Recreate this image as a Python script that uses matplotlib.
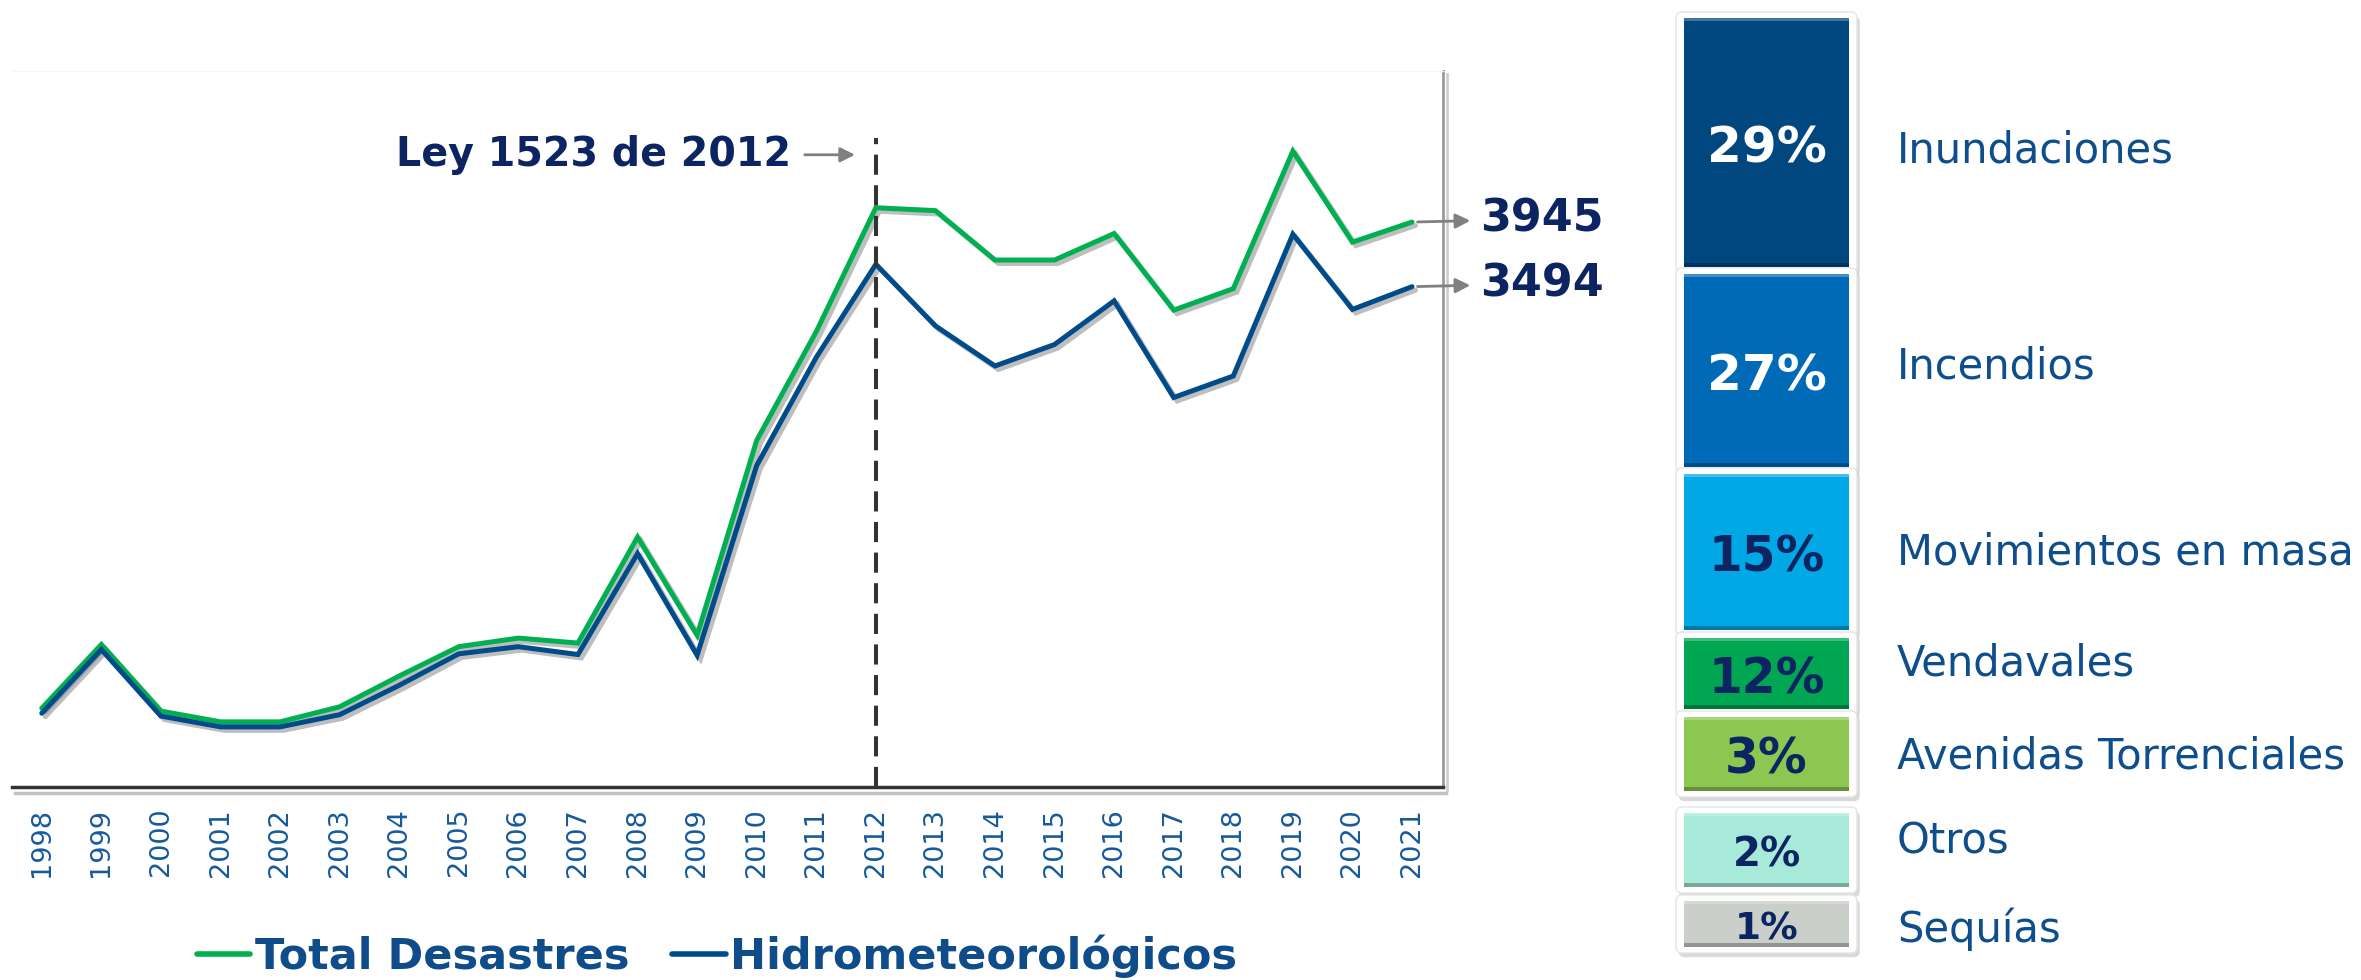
import matplotlib
matplotlib.use('Agg')
import matplotlib.pyplot as plt
import matplotlib.patheffects as pe
from matplotlib.patches import FancyBboxPatch
from matplotlib.lines import Line2D
import matplotlib.colors as mcolors

# ---------------- data ----------------
years = list(range(1998, 2022))
total_desastres = [550, 995, 530, 455, 455, 560, 775, 980, 1040, 1005, 1745, 1060,
                   2420, 3180, 4045, 4025, 3680, 3680, 3865, 3330, 3480, 4440, 3805, 3945]
hidrometeorologicos = [515, 960, 495, 420, 420, 505, 710, 930, 980, 925, 1630, 920,
                       2245, 3000, 3650, 3220, 2940, 3090, 3395, 2720, 2870, 3860, 3335, 3494]
series_labels = ['Total Desastres', 'Hidrometeorológicos']
law_year = 2012
law_label = 'Ley 1523 de 2012'

categories = ['Inundaciones', 'Incendios', 'Movimientos en masa', 'Vendavales',
              'Avenidas Torrenciales', 'Otros', 'Sequías']
percentages = [29, 27, 15, 12, 3, 2, 1]

# ---------------- style / layout ----------------
GREEN = '#00B050'
BLUE = '#004C8A'
NAVY = '#0C2461'
TICKC = '#165A9C'
LEGC = '#0F4C8A'
LABC = '#0F4E8C'

box_colors = ['#00467F', '#006AB7', '#00A8E6', '#00A651', '#8CC751', '#A8EAD9', '#CACFCA']
pct_text_colors = ['white', 'white', NAVY, NAVY, NAVY, NAVY, NAVY]
pct_sizes = [36, 36, 35, 35, 35, 29, 27]
box_top = [18, 274, 474, 638, 717, 813, 901]
box_height = [249, 193, 156, 71, 74, 74, 46]
label_cy = [147, 363, 549, 660, 753, 838, 927]
box_x0, box_w = 1684, 165
label_x = 1897

W, H = 2361, 980
fig = plt.figure(figsize=(W / 100, H / 100), dpi=100, facecolor='white')

# ---------------- line chart ----------------
ax = fig.add_axes([12 / W, 1 - 787 / H, 1431 / W, 716 / H])
ax.set_xlim(1997.5, 2021.52)
ax.set_ylim(0, 5000)

line_fx = [pe.SimpleLineShadow(offset=(2.5, -2.5), shadow_color='#6f6f6f', alpha=0.45),
           pe.Normal()]
ax.plot(years, total_desastres, color=GREEN, lw=3.6, solid_joinstyle='miter',
        solid_capstyle='round', path_effects=line_fx, zorder=3)
ax.plot(years, hidrometeorologicos, color=BLUE, lw=3.6, solid_joinstyle='miter',
        solid_capstyle='round', path_effects=line_fx, zorder=4)

ax.axvline(law_year, ymin=0, ymax=0.906, color='#333333', lw=2.9,
           ls=(0, (5, 2.6)), zorder=5)

ax.spines['left'].set_visible(False)
ax.spines['top'].set_color('#f6f6f6')
ax.spines['top'].set_linewidth(1)
ax.spines['right'].set_color('#9a9a9a')
ax.spines['right'].set_linewidth(2)
ax.spines['right'].set_path_effects([pe.SimpleLineShadow(offset=(3, -2), shadow_color='#888888', alpha=0.4), pe.Normal()])
ax.spines['bottom'].set_color('#333333')
ax.spines['bottom'].set_linewidth(2.5)
ax.spines['bottom'].set_path_effects([pe.SimpleLineShadow(offset=(2, -4), shadow_color='#777777', alpha=0.45), pe.Normal()])

ax.set_yticks([])
ax.set_xticks(years)
ax.set_xticklabels([str(y) for y in years], rotation=90, fontsize=19.5,
                   color=TICKC, family='DejaVu Sans')
ax.tick_params(axis='x', length=0, pad=15)

ax.annotate(law_label, xy=(law_year, 0.883), xycoords=('data', 'axes fraction'),
            xytext=(-85, 0), textcoords='offset pixels', ha='right', va='center',
            fontsize=28.5, fontweight='bold', color=NAVY, family='DejaVu Sans',
            arrowprops=dict(arrowstyle='-|>', color='#808080', lw=2,
                            shrinkA=8, shrinkB=15, mutation_scale=22))

for series in (total_desastres, hidrometeorologicos):
    ax.annotate(f'{series[-1]}', xy=(years[-1], series[-1]), xytext=(68, 3),
                textcoords='offset pixels', ha='left', va='center',
                fontsize=32, fontweight='bold', color=NAVY, family='DejaVu Sans',
                arrowprops=dict(arrowstyle='<|-', color='#808080', lw=2,
                                shrinkA=5, shrinkB=4, mutation_scale=22))

handles = [Line2D([0], [0], color=GREEN, lw=4, solid_capstyle='round'),
           Line2D([0], [0], color=BLUE, lw=4, solid_capstyle='round')]
leg = fig.legend(handles, series_labels, loc='center', bbox_to_anchor=(717 / W, 1 - 956 / H),
                 ncol=2, frameon=False, handlelength=1.25, handletextpad=0.1,
                 columnspacing=1.0, prop=dict(family='DejaVu Sans', weight='bold', size=31))
for t in leg.get_texts():
    t.set_color(LEGC)

# ---------------- right panel ----------------
pax = fig.add_axes([1650 / W, 0, 711 / W, 1])
pax.set_xlim(1650, 2361)
pax.set_ylim(980, 0)
pax.axis('off')

for top, h in zip(box_top, box_height):
    frame = FancyBboxPatch((box_x0 - 8, top - 6), box_w + 16, h + 12,
                           boxstyle='round,pad=0,rounding_size=6', fc='white',
                           ec='#e4e4e4', lw=1, zorder=1,
                           path_effects=[pe.withSimplePatchShadow(offset=(2, -3), shadow_rgbFace='black', alpha=0.15)])
    pax.add_patch(frame)

cx = box_x0 + box_w / 2
darker = [tuple(c * 0.72 for c in mcolors.to_rgb(col)) for col in box_colors]
lighter = [tuple(c + (1 - c) * 0.25 for c in mcolors.to_rgb(col)) for col in box_colors]
pax.bar([cx] * len(box_top), box_height, bottom=box_top, width=box_w,
        color=box_colors, zorder=2)
pax.bar([cx] * len(box_top), [4] * len(box_top),
        bottom=[t + h - 4 for t, h in zip(box_top, box_height)], width=box_w,
        color=darker, zorder=3)
pax.bar([cx] * len(box_top), [3] * len(box_top), bottom=box_top, width=box_w,
        color=lighter, zorder=3)

for top, h, p, tc, fs in zip(box_top, box_height, percentages, pct_text_colors, pct_sizes):
    cy = top + h / 2 + 2
    pax.text(cx, cy + 0.506 * fs, f'{p}%', ha='center', va='baseline', fontsize=fs,
             fontweight='bold', color=tc, family='DejaVu Sans', zorder=5)

for cat, cy in zip(categories, label_cy):
    pax.text(label_x, cy + 0.506 * 30, cat, ha='left', va='baseline', fontsize=30,
             color=LABC, family='DejaVu Sans', zorder=5)

fig.savefig('out.png', dpi=100, facecolor='white')
